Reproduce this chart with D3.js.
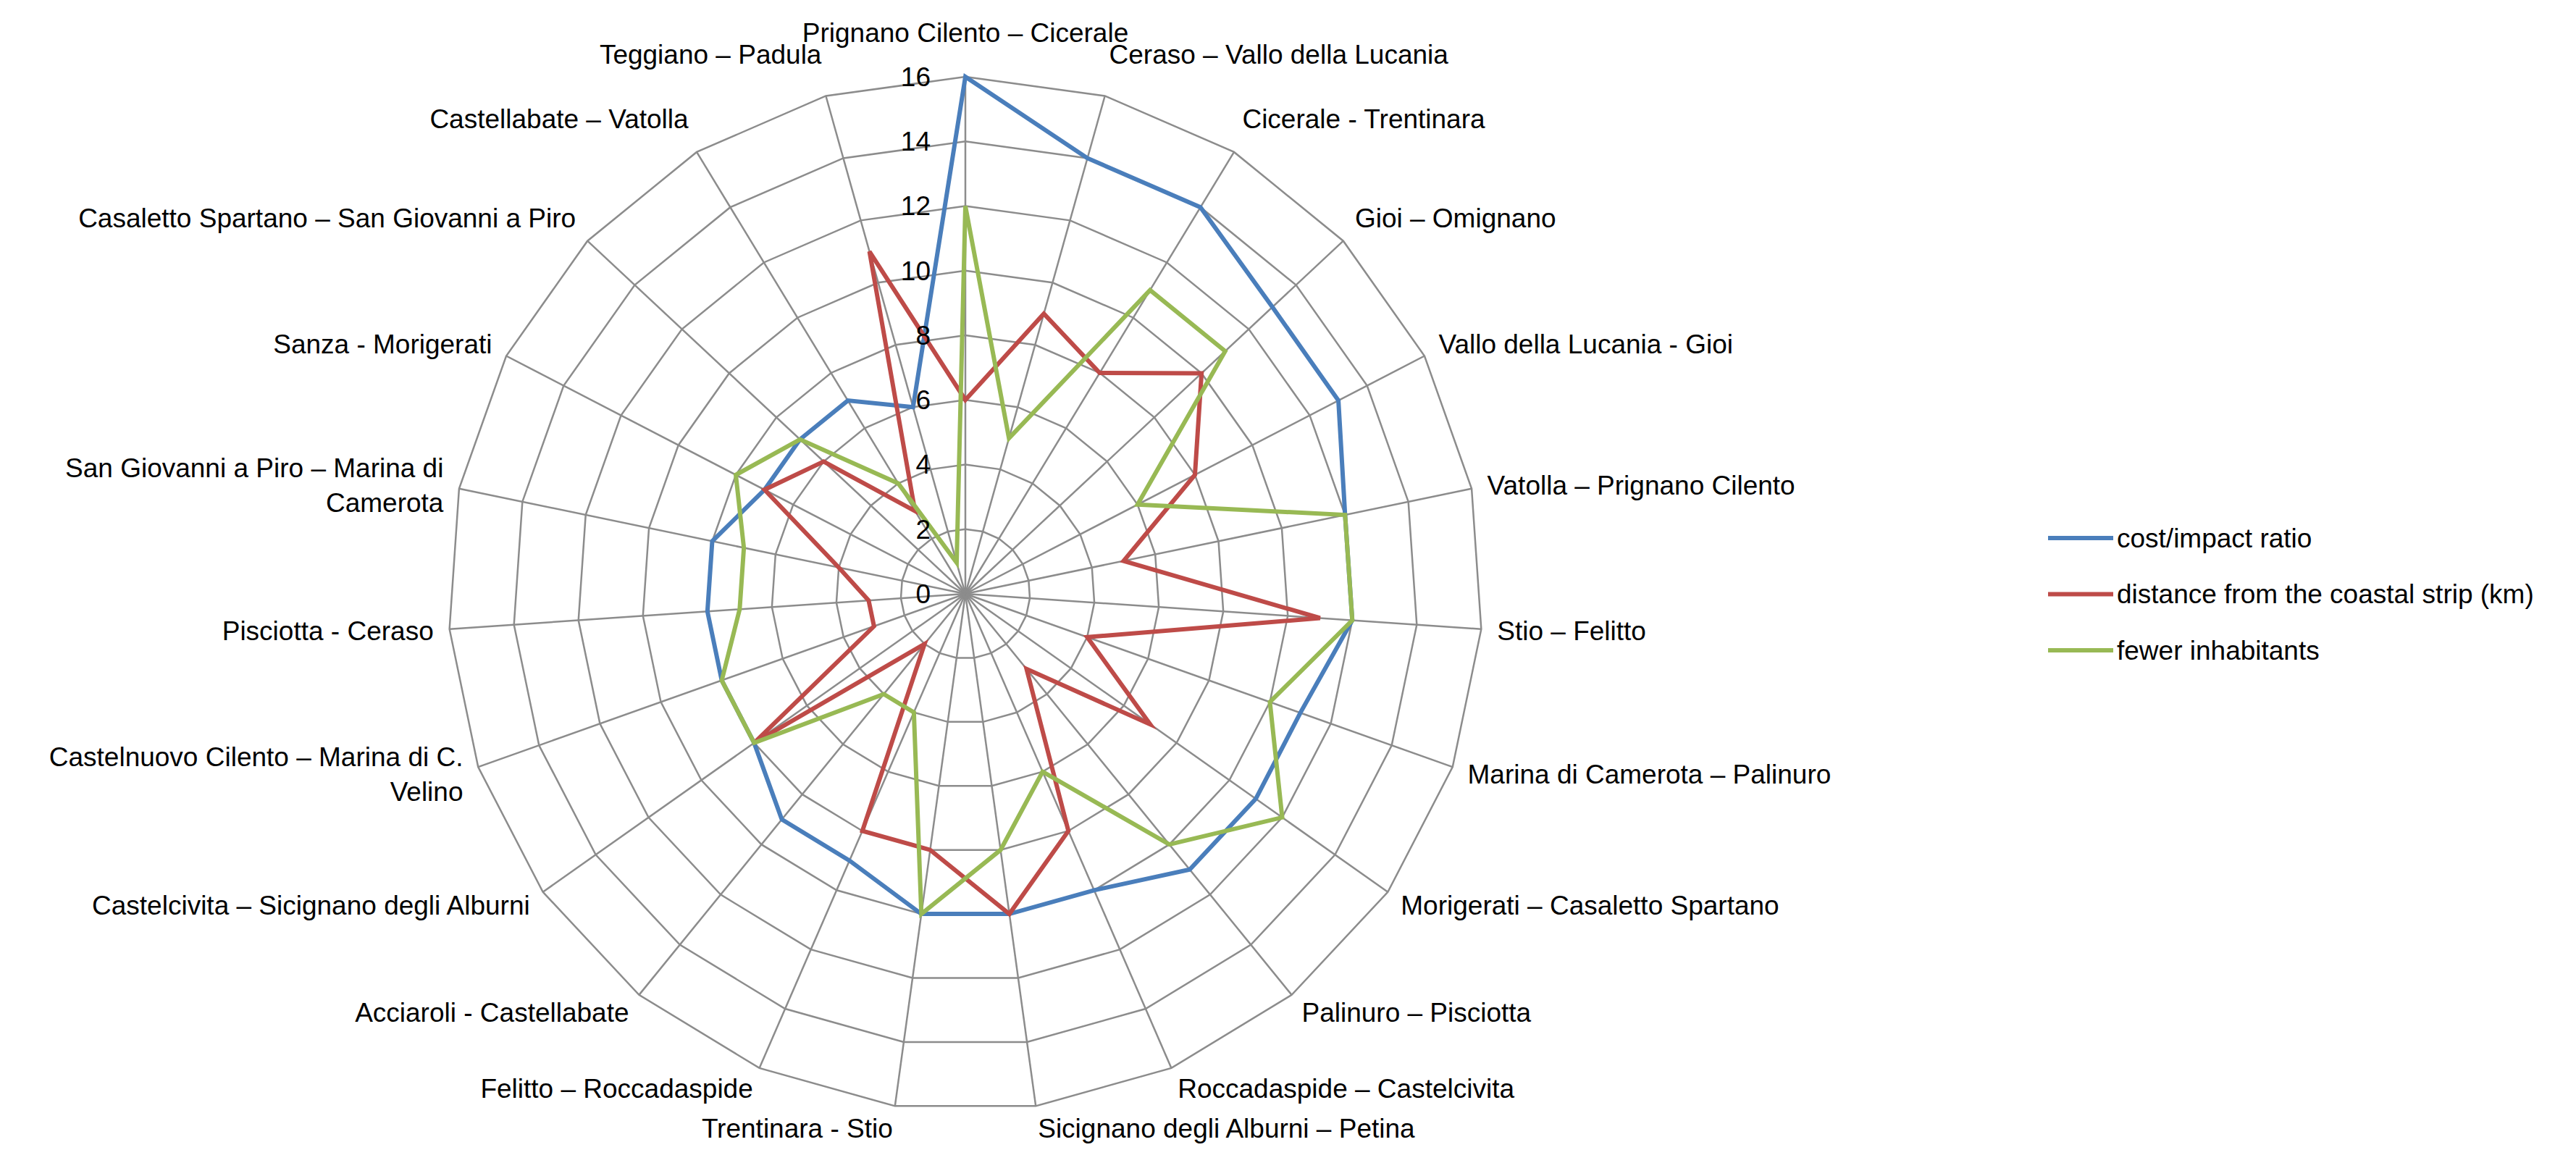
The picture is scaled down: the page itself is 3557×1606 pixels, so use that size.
<!DOCTYPE html>
<html>
<head>
<meta charset="utf-8">
<script src="https://cdn.jsdelivr.net/npm/d3@7"></script>
<style>
  body { margin: 0; background: #fff; }
  text { font-family: "Liberation Sans Narrow", "Liberation Sans", sans-serif; fill: #000; }
</style>
</head>
<body>
<script>
const width = 3557;
const height = 1606;
const cx = 1333;
const cy = 820;
const radius = 714;

const categories = [
  'Prignano Cilento – Cicerale', 'Ceraso – Vallo della Lucania', 'Cicerale - Trentinara',
  'Gioi – Omignano', 'Vallo della Lucania - Gioi', 'Vatolla – Prignano Cilento',
  'Stio – Felitto', 'Marina di Camerota – Palinuro', 'Morigerati – Casaletto Spartano',
  'Palinuro – Pisciotta', 'Roccadaspide – Castelcivita', 'Sicignano degli Alburni – Petina',
  'Trentinara - Stio', 'Felitto – Roccadaspide', 'Acciaroli - Castellabate',
  'Castelcivita – Sicignano degli Alburni', 'Castelnuovo Cilento – Marina di C.\nVelino',
  'Pisciotta - Ceraso', 'San Giovanni a Piro – Marina di\nCamerota', 'Sanza - Morigerati',
  'Casaletto Spartano – San Giovanni a Piro', 'Castellabate – Vatolla', 'Teggiano – Padula'
];

const costImpact = [16, 14, 14, 13, 13, 12, 12, 11, 11, 11, 10, 10, 10, 9, 9, 8, 8, 8, 8, 7, 7, 7, 6];
const distanceCoast = [6, 9, 8, 10, 8, 5, 11, 4, 7, 3, 8, 10, 8, 8, 2, 8, 3, 3, 4, 7, 6, 3, 11];
const fewerInhabitants = [12, 5, 11, 11, 6, 12, 12, 10, 12, 10, 6, 8, 10, 4, 4, 8, 8, 7, 7, 8, 7, 4, 1];

const seriesNames = ['cost/impact ratio', 'distance from the coastal strip (km)', 'fewer inhabitants'];
const seriesColors = ['#4a7ebb', '#be4b48', '#98b954'];
const ticks = [0, 2, 4, 6, 8, 10, 12, 14, 16];

function main() {
  const svg = d3.select('body').append('svg').attr('width', width).attr('height', height);
  const g = svg.append('g').attr('transform', `translate(${cx},${cy})`);

  const r = d3.scaleLinear().domain([0, 16]).range([0, radius]);
  const angle = d3.scaleLinear().domain([0, categories.length]).range([0, 2 * Math.PI]);
  const pt = (i, v) => [Math.sin(angle(i)) * r(v), -Math.cos(angle(i)) * r(v)];

  // rings
  ticks.slice(1).forEach(t => {
    g.append('path')
      .attr('d', d3.line()(categories.map((_, i) => pt(i, t))) + 'Z')
      .attr('fill', 'none').attr('stroke', '#8c8c8c').attr('stroke-width', 2.5);
  });

  // spokes
  categories.forEach((_, i) => {
    const [x, y] = pt(i, 16);
    g.append('line').attr('x1', 0).attr('y1', 0).attr('x2', x).attr('y2', y)
      .attr('stroke', '#8c8c8c').attr('stroke-width', 2.5);
  });

  // series
  [costImpact, distanceCoast, fewerInhabitants].forEach((vals, s) => {
    g.append('path')
      .attr('d', d3.line()(vals.map((v, i) => pt(i, v))) + 'Z')
      .attr('fill', 'none').attr('stroke', seriesColors[s])
      .attr('stroke-width', 6).attr('stroke-linejoin', 'miter');
  });

  // tick labels
  g.selectAll('.tick').data(ticks).enter().append('text')
    .attr('x', -48).attr('y', d => -r(d))
    .attr('dy', '0.35em').attr('text-anchor', 'end')
    .attr('font-size', 37).text(d => d);

  // category labels
  categories.forEach((c, i) => {
    const a = angle(i);
    const dx = Math.sin(a), dy = -Math.cos(a);
    const x = dx * (radius + 22);
    let y = dy * (radius + 15);
    y += dy < 0 ? -46 * dy * dy : dy * 16;
    const anchor = Math.abs(dx) < 0.05 ? 'middle' : dx > 0 ? 'start' : 'end';
    const lines = c.split('\n');
    const t = g.append('text').attr('x', x).attr('y', y)
      .attr('text-anchor', anchor).attr('font-size', 37);
    const off = -(lines.length - 1) * 0.65;
    lines.forEach((l, k) => {
      t.append('tspan').attr('x', x)
        .attr('dy', k === 0 ? `${off + 0.35}em` : '1.3em')
        .text(l);
    });
  });

  // legend
  const legend = svg.append('g').attr('transform', 'translate(2828,743)');
  seriesNames.forEach((n, i) => {
    legend.append('line').attr('x1', 0).attr('x2', 90)
      .attr('y1', i * 77.5).attr('y2', i * 77.5)
      .attr('stroke', seriesColors[i]).attr('stroke-width', 6);
    legend.append('text').attr('x', 95).attr('y', i * 77.5).attr('dy', '0.35em')
      .attr('font-size', 37).text(n);
  });
}

main();
</script>
</body>
</html>
